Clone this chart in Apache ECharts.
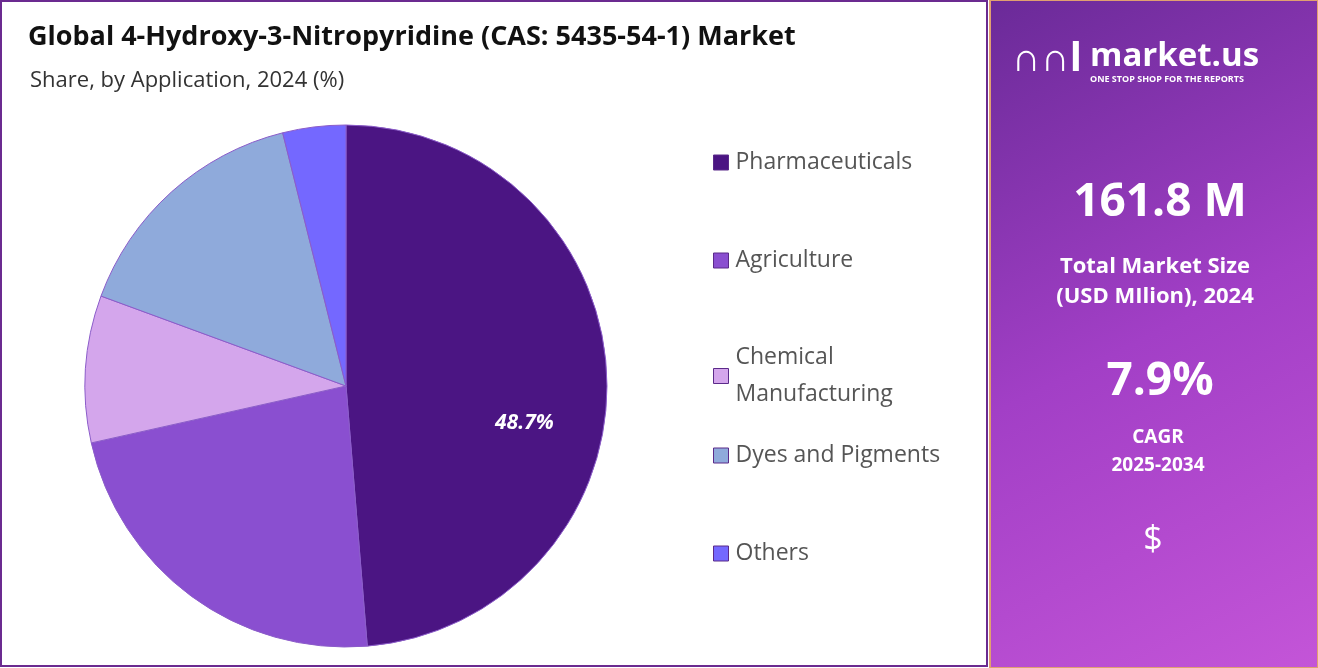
<!DOCTYPE html>
<html lang="en">
<head>
    <meta charset="UTF-8">
    <title>4-Hydroxy-3-Nitropyridine Market</title>
    <script src="https://cdn.jsdelivr.net/npm/echarts@6/dist/echarts.min.js"></script>
    <style>body{margin:0;background:#fff;}</style>
</head>
<body>
<div id="main" style="width:1318px;height:668px;"></div>
<script type="text/javascript">
    var categories = ['Pharmaceuticals', 'Agriculture', 'Chemical Manufacturing', 'Dyes and Pigments', 'Others'];
    var shares = [48.7, 22.8, 9.1, 15.5, 3.9];
    var colors = ['#4B1583', '#8A4FD0', '#D4A6EC', '#8FAADB', '#7468FF'];
    var legendTops = [139, 237, 334, 432, 530];

    var chartDom = document.getElementById('main');
    var myChart = echarts.init(chartDom);
    var font = '"Open Sans", "Noto Sans", sans-serif';

    var pieData = [];
    for (var i = 0; i < categories.length; i++) {
        pieData.push({
            name: categories[i],
            value: shares[i],
            itemStyle: {color: colors[i]},
            label: {show: i === 0}
        });
    }

    var legends = [];
    for (var j = 0; j < categories.length; j++) {
        legends.push({
            data: [categories[j]],
            left: 708,
            top: legendTops[j],
            icon: 'rect',
            itemWidth: 15,
            itemHeight: 15,
            itemStyle: {borderColor: '#5b2a8a', borderWidth: 1},
            selectedMode: false,
            formatter: function (n) { return n === 'Chemical Manufacturing' ? 'Chemical\nManufacturing' : n; },
            textStyle: {fontSize: 23, color: '#555', fontFamily: font, lineHeight: 37, padding: [0, 0, 0, 2]}
        });
    }

    var option = {
        animation: false,
        legend: legends,
        series: [{
            type: 'pie',
            center: [346, 386],
            radius: 261,
            startAngle: 90,
            clockwise: true,
            itemStyle: {borderColor: '#8b5cc9', borderWidth: 1},
            label: {
                position: 'inside',
                formatter: '{c}%',
                color: '#fff',
                fontSize: 21,
                fontStyle: 'italic',
                fontWeight: 'bold',
                fontFamily: font
            },
            labelLayout: {dx: 45, dy: 42},
            labelLine: {show: false},
            data: pieData
        }],
        graphic: [
            {type: 'rect', shape: {x: 1, y: 1, width: 986, height: 665}, style: {fill: 'none', stroke: '#6b2a90', lineWidth: 2}, z: -1},
            {type: 'text', left: 28, top: 24, style: {text: 'Global 4-Hydroxy-3-Nitropyridine (CAS: 5435-54-1) Market', fontSize: 27, fontWeight: 'bold', fill: '#111', fontFamily: font}},
            {type: 'text', left: 30, top: 70, style: {text: 'Share, by Application, 2024 (%)', fontSize: 22, fill: '#333', fontFamily: font}},
            {type: 'rect', shape: {x: 990, y: 0, width: 328, height: 668},
                style: {fill: new echarts.graphic.LinearGradient(0, 0, 1, 1, [
                    {offset: 0, color: '#6a2a98'}, {offset: 0.5, color: '#a23fc6'}, {offset: 1, color: '#c455d8'}]), stroke: '#e0a070', lineWidth: 2}},
            {type: 'text', x: 1012, y: 40, style: {text: '\u2229\u2229l', fontSize: 40, fontWeight: 'bold', fill: '#fff', fontFamily: font}},
            {type: 'text', x: 1090, y: 40, style: {text: 'market.us', fontSize: 33, fontWeight: 'bold', fill: '#fff', fontFamily: font}},
            {type: 'text', x: 1090, y: 75, style: {text: 'ONE STOP SHOP FOR THE REPORTS', fontSize: 9, fontWeight: 'bold', fill: '#fff', fontFamily: font}},
            {type: 'text', x: 1160, y: 203, style: {text: '161.8 M', fontSize: 46, fontWeight: 'bold', fill: '#fff', align: 'center', verticalAlign: 'middle', fontFamily: font}},
            {type: 'text', x: 1155, y: 282, style: {text: 'Total Market Size\n(USD MIlion), 2024', fontSize: 22, lineHeight: 30, fontWeight: 'bold', fill: '#fff', align: 'center', verticalAlign: 'middle', fontFamily: font}},
            {type: 'text', x: 1160, y: 382, style: {text: '7.9%', fontSize: 46, fontWeight: 'bold', fill: '#fff', align: 'center', verticalAlign: 'middle', fontFamily: font}},
            {type: 'text', x: 1158, y: 452, style: {text: 'CAGR\n2025-2034', fontSize: 19, lineHeight: 28, fontWeight: 'bold', fill: '#fff', align: 'center', verticalAlign: 'middle', fontFamily: font}},
            {type: 'text', x: 1153, y: 540, style: {text: '$', fontSize: 34, fill: '#fff', align: 'center', verticalAlign: 'middle', fontFamily: font}}
        ]
    };

    option && myChart.setOption(option);
</script>
</body>
</html>
